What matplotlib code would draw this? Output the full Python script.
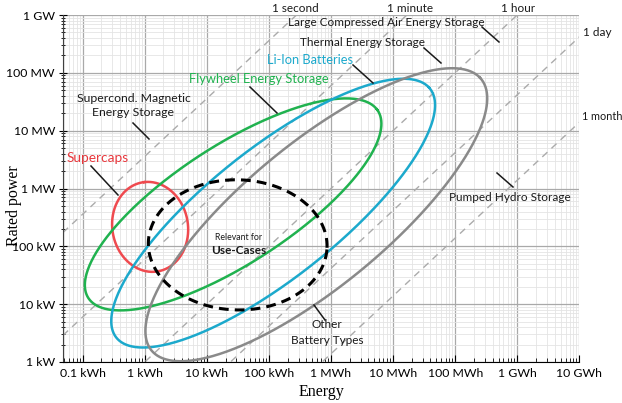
import numpy as np
import matplotlib.pyplot as plt
from matplotlib.lines import Line2D
from matplotlib.ticker import LogLocator, NullFormatter

plt.rcParams['font.family'] = ['Lato', 'DejaVu Sans']

# axis ticks
energy_ticks = [0.1, 1, 10, 100, 1e3, 1e4, 1e5, 1e6, 1e7]  # kWh
energy_labels = ['0.1 kWh', '1 kWh', '10 kWh', '100 kWh', '1 MWh', '10 MWh',
                 '100 MWh', '1 GWh', '10 GWh']
power_ticks = [1, 10, 100, 1e3, 1e4, 1e5, 1e6]  # kW
power_labels = ['1 kW', '10 kW', '100 kW', '1 MW', '10 MW', '100 MW', '1 GW']

# discharge time lines (hours)
durations_h = [1 / 3600, 1 / 60, 1, 24, 720]

# technology regions: centre (kWh, kW), half axes in decades, tilt in degrees
techs = ['Supercaps', 'Flywheel', 'Li-Ion', 'Other', 'Use-Cases']
center_energy = [1.22, 26.5, 117, 580, 31.4]
center_power = [217, 531, 375, 352, 106]
half_major = [0.78, 2.84, 3.32, 3.545, 1.44]
half_minor = [0.61, 1.0, 1.086, 1.196, 1.125]
tilt_deg = [97, 35.3, 40.9, 42, -2]
colors = ['#ef4a4f', '#20b24f', '#1ca9cc', '#8a8a8a', 'black']

W, H = 622, 403
fig = plt.figure(figsize=(W / 100, H / 100), dpi=100)
ax = fig.add_axes([63.3 / W, 1 - 362 / H, (579.3 - 63.3) / W, (362 - 15) / H])
ax.set_xscale('log')
ax.set_yscale('log')
ax.set_xlim(0.0487, 1e7)
ax.set_ylim(1, 1e6)

ax.set_xticks(energy_ticks)
ax.set_xticklabels(energy_labels)
ax.set_yticks(power_ticks)
ax.set_yticklabels(power_labels)
for axis in (ax.xaxis, ax.yaxis):
    axis.set_minor_locator(LogLocator(base=10, subs=np.arange(2, 10), numticks=100))
    axis.set_minor_formatter(NullFormatter())

ax.grid(which='major', color='#a9a9a9', lw=0.9, zorder=0)
ax.grid(which='minor', color='#e4e4e4', lw=0.6, zorder=0)
ax.set_axisbelow(True)
for s in ['top', 'right']:
    ax.spines[s].set_visible(False)
ax.spines['left'].set_color('#404040')
ax.spines['bottom'].set_color('black')
ax.tick_params(axis='x', which='both', direction='in', labelsize=8.8, pad=4)
ax.tick_params(axis='x', which='major', length=5)
ax.tick_params(axis='x', which='minor', length=3)
ax.tick_params(axis='y', which='both', direction='inout', labelsize=8.8, pad=3)
ax.tick_params(axis='y', which='major', length=6)
ax.tick_params(axis='y', which='minor', length=3)

ax.set_xlabel('Energy', family='Liberation Serif', fontsize=11.5, labelpad=4)
ax.set_ylabel('Rated power', family='Liberation Serif', fontsize=11.5)
ax.yaxis.set_label_coords((22 - 63.3) / 516, 0.45)

# constant discharge time lines
e_line = np.logspace(-3, 8, 60)
for t in durations_h:
    ax.plot(e_line, e_line / t, ls=(0, (5, 4)), color='#ababab', lw=1, zorder=1)

# ellipses in log-log space
phi = np.linspace(0, 2 * np.pi, 500)
for i in range(len(techs)):
    th = np.radians(tilt_deg[i])
    du = half_major[i] * np.cos(phi) * np.cos(th) - half_minor[i] * np.sin(phi) * np.sin(th)
    dv = half_major[i] * np.cos(phi) * np.sin(th) + half_minor[i] * np.sin(phi) * np.cos(th)
    if techs[i] == 'Use-Cases':
        ax.plot(center_energy[i] * 10 ** du, center_power[i] * 10 ** dv,
                color=colors[i], lw=2.2, ls=(0, (3.2, 2)), zorder=4)
    else:
        ax.plot(center_energy[i] * 10 ** du, center_power[i] * 10 ** dv,
                color=colors[i], lw=1.8, zorder=3)


def fp(x, y):
    return x / W, 1 - y / H


def label(x, y, s, ha='center', color='#1a1a1a', size=8.5, **kw):
    fig.text(*fp(x, y), s, ha=ha, va='center', color=color, fontsize=size, **kw)


def pointer(x0, y0, x1, y1):
    (a, b), (c, d) = fp(x0, y0), fp(x1, y1)
    fig.add_artist(Line2D([a, c], [b, d], color='#1a1a1a', lw=1.1))


# time labels
label(295, 9, '1 second')
label(410, 9, '1 minute')
label(518, 9, '1 hour')
label(583, 32, '1 day', ha='left')
label(582, 117, '1 month', ha='left', size=7.8)

# technology labels
label(386, 23, 'Large Compressed Air Energy Storage')
pointer(482, 27, 499, 42)
label(362, 43, 'Thermal Energy Storage')
pointer(424, 48, 441, 63)
label(310.5, 60, 'Li-Ion Batteries', color=colors[2], size=9.3)
pointer(353, 65, 373, 83)
label(259, 79, 'Flywheel Energy Storage', color=colors[1], size=9.3)
pointer(250, 87, 277, 113)
label(133.5, 98, 'Supercond. Magnetic', size=8.8)
label(133.5, 113, 'Energy Storage', size=8.8)
pointer(133, 123, 149, 139)
label(97.5, 158, 'Supercaps', color='#e8383d', size=9.8)
pointer(91, 166, 118, 195)
label(238.5, 238, 'Relevant for', size=6.3)
label(238.5, 251, 'Use-Cases', size=8.5, weight='bold')
label(510, 197, 'Pumped Hydro Storage')
pointer(497, 173, 513, 187)
label(327, 325, 'Other')
label(327, 341, 'Battery Types')
pointer(314, 305, 325, 320)

fig.savefig('out.png', dpi=100)
